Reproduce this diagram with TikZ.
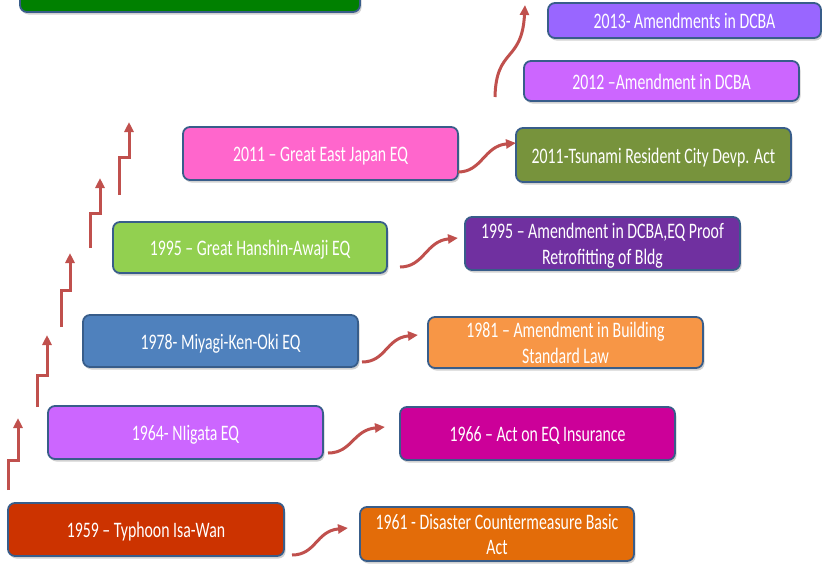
\documentclass[tikz,border=0pt]{standalone}
\usepackage{fontspec}
\setmainfont{Carlito}
\usetikzlibrary{arrows.meta,shadows,calc}
\definecolor{bordc}{HTML}{385D8A}
\definecolor{arrc}{HTML}{C0504D}
\definecolor{cTop}{HTML}{008000}
\definecolor{c13}{HTML}{9966FF}
\definecolor{c12}{HTML}{CC66FF}
\definecolor{cTs}{HTML}{77933C}
\definecolor{cGEJ}{HTML}{FF66CC}
\definecolor{cGHA}{HTML}{92D050}
\definecolor{cD95}{HTML}{7030A0}
\definecolor{c78}{HTML}{4F81BD}
\definecolor{c81}{HTML}{F79646}
\definecolor{c64}{HTML}{CC66FF}
\definecolor{c66}{HTML}{CC0099}
\definecolor{c59}{HTML}{CC3300}
\definecolor{c61}{HTML}{E36C09}
\newcommand\boxtxt[1]{\raisebox{-3pt}[\height][\depth]{\scalebox{1}[1.4]{\begin{tabular}{@{}c@{}}#1\end{tabular}}}}
\begin{document}
\begin{tikzpicture}[x=1pt,y=-1pt,
  evbox/.style={draw=bordc, line width=1.8pt, rounded corners=7pt, text=white,
    inner sep=0pt, outer sep=0pt,
    font=\fontsize{15.8}{18}\selectfont,
    drop shadow={shadow xshift=1.5pt, shadow yshift=-2.5pt, fill=black, opacity=0.18}},
  carrow/.style={draw=arrc, line width=3pt, -{Triangle[length=10pt,width=9pt]}},
  sarrow/.style={draw=arrc, line width=3pt, miter limit=10, -{Triangle[length=10pt,width=9pt]}}
]
\useasboundingbox (0,0) rectangle (822,568);
\clip (0,0) rectangle (822,568);

% boxes
\node[evbox, fill=cTop, minimum width=340pt, minimum height=40pt] (top) at (190,-8) {};
\node[evbox, fill=c13, minimum width=273pt, minimum height=35pt] (n13) at (684.5,20.5) {\boxtxt{2013- Amendments in DCBA}};
\node[evbox, fill=c12, minimum width=275pt, minimum height=40pt] (n12) at (661.5,81) {\boxtxt{2012 --Amendment in DCBA}};
\node[evbox, fill=cTs, minimum width=275pt, minimum height=54pt] (nTs) at (653.5,155) {\boxtxt{2011-Tsunami Resident City Devp. Act}};
\node[evbox, fill=cGEJ, minimum width=275pt, minimum height=53pt] (nGEJ) at (320.5,153.5) {\boxtxt{2011 -- Great East Japan EQ}};
\node[evbox, fill=cGHA, minimum width=274pt, minimum height=51pt] (nGHA) at (250,247.5) {\boxtxt{1995 -- Great Hanshin-Awaji EQ}};
\node[evbox, fill=cD95, minimum width=275pt, minimum height=53pt] (nD95) at (602.5,243.5) {\boxtxt{1995 -- Amendment in DCBA,EQ Proof\\Retrofitting of Bldg}};
\node[evbox, fill=c78, minimum width=275pt, minimum height=52pt] (n78) at (220.5,341) {\boxtxt{1978- Miyagi-Ken-Oki EQ}};
\node[evbox, fill=c81, minimum width=275pt, minimum height=51pt] (n81) at (565.5,342.5) {\boxtxt{1981 -- Amendment in Building\\Standard Law}};
\node[evbox, fill=c64, minimum width=275pt, minimum height=53pt] (n64) at (185.5,432.5) {\boxtxt{1964- NIigata EQ}};
\node[evbox, fill=c66, minimum width=275pt, minimum height=53pt] (n66) at (537.5,433.5) {\boxtxt{1966 -- Act on EQ Insurance}};
\node[evbox, fill=c59, minimum width=276pt, minimum height=53pt] (n59) at (146,529.5) {\boxtxt{1959 -- Typhoon Isa-Wan}};
\node[evbox, fill=c61, minimum width=274pt, minimum height=54pt] (n61) at (497,534) {\boxtxt{1961 - Disaster Countermeasure Basic\\Act}};

% curved connectors
\draw[carrow] ($(n59.south east)+(8,-1)$) .. controls +(24,0) and +(-32,3) .. ($(n61.west)+(-12,-6)$);
\draw[carrow] ($(n64.south east)+(5,-6)$) .. controls +(24,0) and +(-32,3) .. ($(n66.west)+(-15,-6.5)$);
\draw[carrow] ($(n78.south east)+(4,-5)$) .. controls +(24,0) and +(-32,3) .. ($(n81.west)+(-10,-7.5)$);
\draw[carrow] ($(nGHA.south east)+(13,-6)$) .. controls +(24,0) and +(-32,3) .. ($(nD95.west)+(-7,-5.5)$);
\draw[carrow] ($(nGEJ.south east)+(0,-8)$) .. controls +(24,0) and +(-32,3) .. ($(nTs.west)+(0,-12)$);
\coordinate (up0) at ($(n12.west)+(-29,16)$);
\coordinate (up1) at (525,5);
\draw[carrow] (up0) .. controls +(1,-50) and +(-3,58) .. (up1);

% step arrows
\draw[sarrow] (8,490) -- (8,460) -- (18,460) -- (18,418);
\draw[sarrow] (37,407) -- (37,375) -- (47,375) -- (47,335);
\draw[sarrow] (61,327) -- (61,290) -- (70,290) -- (70,253);
\draw[sarrow] (90,248) -- (90,213) -- (100,213) -- (100,178);
\draw[sarrow] (119,195) -- (119,157) -- (129,157) -- (129,122);
\end{tikzpicture}
\end{document}
